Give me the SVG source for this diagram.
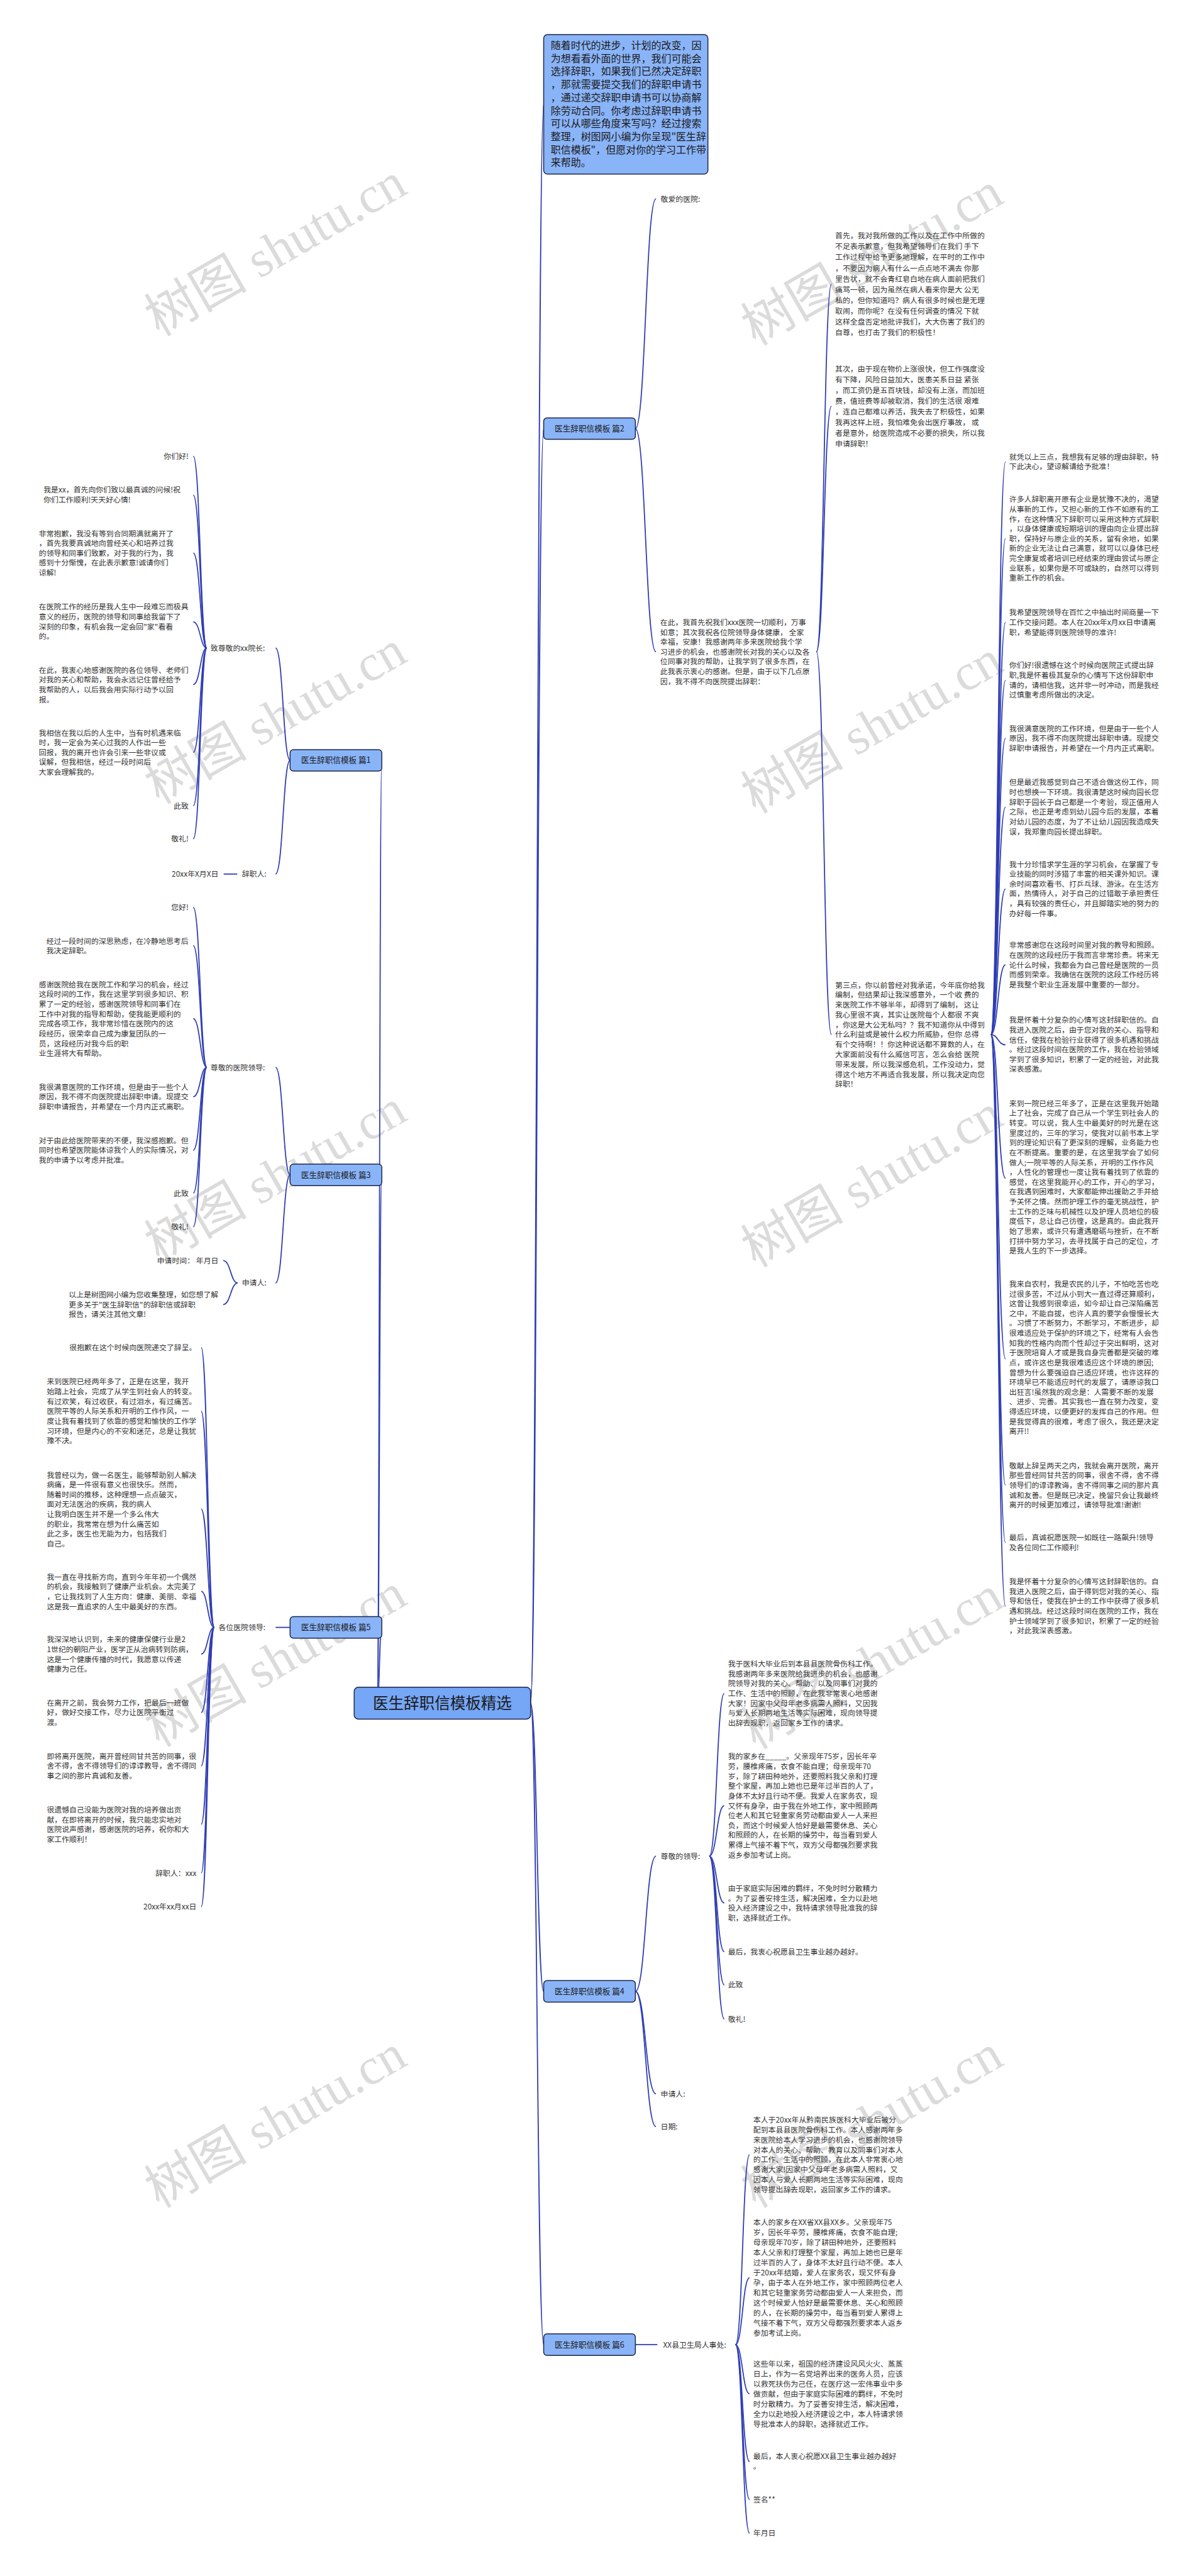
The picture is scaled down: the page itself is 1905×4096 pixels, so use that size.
<svg xmlns="http://www.w3.org/2000/svg" width="1905" height="4096" viewBox="0 0 1905 4096">
<style>
.t{font-family:"Noto Sans CJK SC","Liberation Sans",sans-serif;font-size:16px;fill:#333}
.tb{font-family:"Noto Sans CJK SC","Liberation Sans",sans-serif;font-size:17px;fill:#1a1a1a}
.ti{font-family:"Noto Sans CJK SC","Liberation Sans",sans-serif;font-size:21.5px;fill:#1a1a1a}
.tc{font-family:"Noto Sans CJK SC","Liberation Sans",sans-serif;font-size:33px;fill:#1a1a1a}
.box{fill:#8ab4f8;stroke:#1c2747;stroke-width:2}
.cbox{fill:#76a6f6;stroke:#1c2747;stroke-width:2}
.ln{fill:none;stroke:#2f3db4;stroke-width:2.4}
.wm{font-family:"Liberation Serif","Noto Sans CJK SC",serif;font-size:110px;fill:#cccccc;fill-opacity:0.7}
.r{text-anchor:end}
</style>
<rect width="1905" height="4096" fill="#fff"/>
<g transform="scale(0.744)">
<g id="watermarks">
<text class="wm" transform="translate(340,720) rotate(-30)">树图 shutu.cn</text>
<text class="wm" transform="translate(1615,740) rotate(-30)">树图 shutu.cn</text>
<text class="wm" transform="translate(340,1720) rotate(-30)">树图 shutu.cn</text>
<text class="wm" transform="translate(1615,1740) rotate(-30)">树图 shutu.cn</text>
<text class="wm" transform="translate(340,2700) rotate(-30)">树图 shutu.cn</text>
<text class="wm" transform="translate(1615,2710) rotate(-30)">树图 shutu.cn</text>
<text class="wm" transform="translate(340,3735) rotate(-30)">树图 shutu.cn</text>
<text class="wm" transform="translate(1615,3740) rotate(-30)">树图 shutu.cn</text>
<text class="wm" transform="translate(340,4720) rotate(-30)">树图 shutu.cn</text>
<text class="wm" transform="translate(1615,4720) rotate(-30)">树图 shutu.cn</text>
</g>
<g id="connectors">
<path class="ln" d="M1134,3640 C1148,3640 1148,222 1162,222"/>
<path class="ln" d="M1134,3640 C1148,3640 1148,916 1162,916"/>
<path class="ln" d="M1134,3640 C1148,3640 1148,4256 1162,4256"/>
<path class="ln" d="M1134,3640 C1148,3640 1148,5011 1162,5011"/>
<path class="ln" d="M806,3640 C811,3640 811,1625 816,1625"/>
<path class="ln" d="M806,3640 C811,3640 811,2511 816,2511"/>
<path class="ln" d="M806,3640 C811,3640 811,3478 816,3478"/>
<path class="ln" d="M1358,916 C1380,916 1380,425 1402,425"/>
<path class="ln" d="M1358,916 C1380,916 1380,1393 1402,1393"/>
<path class="ln" d="M1745,1393 C1761,1393 1761,607 1777,607"/>
<path class="ln" d="M1745,1393 C1761,1393 1761,868 1777,868"/>
<path class="ln" d="M1745,1393 C1761,1393 1761,2211 1777,2211"/>
<path class="ln" d="M2118,2211 C2133,2211 2133,987 2149,987"/>
<path class="ln" d="M2118,2211 C2133,2211 2133,1151 2149,1151"/>
<path class="ln" d="M2118,2211 C2133,2211 2133,1330 2149,1330"/>
<path class="ln" d="M2118,2211 C2133,2211 2133,1454 2149,1454"/>
<path class="ln" d="M2118,2211 C2133,2211 2133,1578 2149,1578"/>
<path class="ln" d="M2118,2211 C2133,2211 2133,1725 2149,1725"/>
<path class="ln" d="M2118,2211 C2133,2211 2133,1900 2149,1900"/>
<path class="ln" d="M2118,2211 C2133,2211 2133,2062 2149,2062"/>
<path class="ln" d="M2118,2211 C2133,2211 2133,2233 2149,2233"/>
<path class="ln" d="M2118,2211 C2133,2211 2133,2518 2149,2518"/>
<path class="ln" d="M2118,2211 C2133,2211 2133,2904 2149,2904"/>
<path class="ln" d="M2118,2211 C2133,2211 2133,3174 2149,3174"/>
<path class="ln" d="M2118,2211 C2133,2211 2133,3297 2149,3297"/>
<path class="ln" d="M2118,2211 C2133,2211 2133,3433 2149,3433"/>
<path class="ln" d="M620,1625 C605,1625 605,1385 589,1385"/>
<path class="ln" d="M620,1625 C605,1625 605,1868 589,1868"/>
<path class="ln" d="M442,1385 C428,1385 428,975 413,975"/>
<path class="ln" d="M442,1385 C428,1385 428,1058 413,1058"/>
<path class="ln" d="M442,1385 C428,1385 428,1182 413,1182"/>
<path class="ln" d="M442,1385 C428,1385 428,1329 413,1329"/>
<path class="ln" d="M442,1385 C428,1385 428,1463 413,1463"/>
<path class="ln" d="M442,1385 C428,1385 428,1608 413,1608"/>
<path class="ln" d="M442,1385 C428,1385 428,1722 413,1722"/>
<path class="ln" d="M442,1385 C428,1385 428,1793 413,1793"/>
<path class="ln" d="M507,1868 L478,1868"/>
<path class="ln" d="M620,2511 C605,2511 605,2281 589,2281"/>
<path class="ln" d="M620,2511 C605,2511 605,2742 589,2742"/>
<path class="ln" d="M442,2281 C428,2281 428,1939 413,1939"/>
<path class="ln" d="M442,2281 C428,2281 428,2021 413,2021"/>
<path class="ln" d="M442,2281 C428,2281 428,2177 413,2177"/>
<path class="ln" d="M442,2281 C428,2281 428,2344 413,2344"/>
<path class="ln" d="M442,2281 C428,2281 428,2458 413,2458"/>
<path class="ln" d="M442,2281 C428,2281 428,2550 413,2550"/>
<path class="ln" d="M442,2281 C428,2281 428,2622 413,2622"/>
<path class="ln" d="M508,2742 C493,2742 493,2694 477,2694"/>
<path class="ln" d="M508,2742 C493,2742 493,2788 477,2788"/>
<path class="ln" d="M620,3478 L589,3478"/>
<path class="ln" d="M458,3478 C444,3478 444,2880 430,2880"/>
<path class="ln" d="M458,3478 C444,3478 444,3016 430,3016"/>
<path class="ln" d="M458,3478 C444,3478 444,3225 430,3225"/>
<path class="ln" d="M458,3478 C444,3478 444,3401 430,3401"/>
<path class="ln" d="M458,3478 C444,3478 444,3535 430,3535"/>
<path class="ln" d="M458,3478 C444,3478 444,3660 430,3660"/>
<path class="ln" d="M458,3478 C444,3478 444,3774 430,3774"/>
<path class="ln" d="M458,3478 C444,3478 444,3899 430,3899"/>
<path class="ln" d="M458,3478 C444,3478 444,4003 430,4003"/>
<path class="ln" d="M458,3478 C444,3478 444,4075 430,4075"/>
<path class="ln" d="M1358,4256 C1380,4256 1380,3967 1402,3967"/>
<path class="ln" d="M1358,4256 C1380,4256 1380,4475 1402,4475"/>
<path class="ln" d="M1358,4256 C1380,4256 1380,4545 1402,4545"/>
<path class="ln" d="M1516,3967 C1532,3967 1532,3619 1548,3619"/>
<path class="ln" d="M1516,3967 C1532,3967 1532,3859 1548,3859"/>
<path class="ln" d="M1516,3967 C1532,3967 1532,4067 1548,4067"/>
<path class="ln" d="M1516,3967 C1532,3967 1532,4171 1548,4171"/>
<path class="ln" d="M1516,3967 C1532,3967 1532,4242 1548,4242"/>
<path class="ln" d="M1516,3967 C1532,3967 1532,4315 1548,4315"/>
<path class="ln" d="M1358,5011 L1405,5011"/>
<path class="ln" d="M1572,5011 C1587,5011 1587,4605 1602,4605"/>
<path class="ln" d="M1572,5011 C1587,5011 1587,4868 1602,4868"/>
<path class="ln" d="M1572,5011 C1587,5011 1587,5116 1602,5116"/>
<path class="ln" d="M1572,5011 C1587,5011 1587,5261 1602,5261"/>
<path class="ln" d="M1572,5011 C1587,5011 1587,5342 1602,5342"/>
<path class="ln" d="M1572,5011 C1587,5011 1587,5414 1602,5414"/>
</g>
<g id="center"><rect class="cbox" x="757" y="3606" width="377" height="68" rx="9"/><text class="tc" x="945.5" y="3652" text-anchor="middle">医生辞职信模板精选</text></g>
<g id="intro"><rect class="box" x="1162" y="74" width="351" height="298" rx="8"/>
<text class="ti" x="1177" y="105"><tspan x="1177" dy="0">随着时代的进步，计划的改变，因</tspan><tspan x="1177" dy="27.8">为想看看外面的世界，我们可能会</tspan><tspan x="1177" dy="27.8">选择辞职，如果我们已然决定辞职</tspan><tspan x="1177" dy="27.8">，那就需要提交我们的辞职申请书</tspan><tspan x="1177" dy="27.8">，通过递交辞职申请书可以协商解</tspan><tspan x="1177" dy="27.8">除劳动合同。你考虑过辞职申请书</tspan><tspan x="1177" dy="27.8">可以从哪些角度来写吗？经过搜索</tspan><tspan x="1177" dy="27.8">整理，树图网小编为你呈现"医生辞</tspan><tspan x="1177" dy="27.8">职信模板"，但愿对你的学习工作带</tspan><tspan x="1177" dy="27.8">来帮助。</tspan></text></g>
<g id="b2"><rect class="box" x="1162" y="893" width="196" height="46" rx="7"/><text class="tb" x="1260" y="922" text-anchor="middle">医生辞职信模板 篇2</text></g>
<g id="b1"><rect class="box" x="620" y="1602" width="196" height="46" rx="7"/><text class="tb" x="718" y="1631" text-anchor="middle">医生辞职信模板 篇1</text></g>
<g id="b3"><rect class="box" x="620" y="2488" width="196" height="46" rx="7"/><text class="tb" x="718" y="2517" text-anchor="middle">医生辞职信模板 篇3</text></g>
<g id="b5"><rect class="box" x="620" y="3455" width="196" height="46" rx="7"/><text class="tb" x="718" y="3484" text-anchor="middle">医生辞职信模板 篇5</text></g>
<g id="b4"><rect class="box" x="1162" y="4233" width="196" height="46" rx="7"/><text class="tb" x="1260" y="4262" text-anchor="middle">医生辞职信模板 篇4</text></g>
<g id="b6"><rect class="box" x="1162" y="4988" width="196" height="46" rx="7"/><text class="tb" x="1260" y="5017" text-anchor="middle">医生辞职信模板 篇6</text></g>
<g id="p2">
<text class="t" x="1412" y="431">敬爱的医院:</text>
<text class="t" x="1411" y="1336"><tspan x="1411" dy="0">在此，我首先祝我们xxx医院一切顺利，万事</tspan><tspan x="1411" dy="21">如意；其次我祝各位院领导身体健康， 全家</tspan><tspan x="1411" dy="21">幸福，安康！我感谢两年多来医院给我个学</tspan><tspan x="1411" dy="21">习进步的机会，也感谢院长对我的关心以及各</tspan><tspan x="1411" dy="21">位同事对我的帮助，让我学到了很多东西，在</tspan><tspan x="1411" dy="21">此我表示衷心的感谢。但是，由于以下几点原</tspan><tspan x="1411" dy="21">因，我不得不向医院提出辞职：</tspan></text>
<text class="t" x="1785" y="510"><tspan x="1785" dy="0">首先，我对我所做的工作以及在工作中所做的</tspan><tspan x="1785" dy="22.9">不足表示歉意，但我希望领导们在我们 手下</tspan><tspan x="1785" dy="22.9">工作过程中给予更多地理解，在平时的工作中</tspan><tspan x="1785" dy="22.9">，不要因为病人有什么一点点地不满去 你那</tspan><tspan x="1785" dy="22.9">里告状，就不会青红皂白地在病人面前把我们</tspan><tspan x="1785" dy="22.9">痛骂一顿，因为虽然在病人看来你是大 公无</tspan><tspan x="1785" dy="22.9">私的，但你知道吗？病人有很多时候也是无理</tspan><tspan x="1785" dy="22.9">取闹，而你呢？在没有任何调查的情况 下就</tspan><tspan x="1785" dy="22.9">这样全盘否定地批评我们，大大伤害了我们的</tspan><tspan x="1785" dy="22.9">自尊，也打击了我们的积极性！</tspan></text>
<text class="t" x="1785" y="794"><tspan x="1785" dy="0">其次，由于现在物价上涨很快，但工作强度没</tspan><tspan x="1785" dy="22.9">有下降，风险日益加大，医患关系日益 紧张</tspan><tspan x="1785" dy="22.9">，而工资仍是五百块钱，却没有上涨，而加班</tspan><tspan x="1785" dy="22.9">费，值班费等却被取消，我们的生活很 艰难</tspan><tspan x="1785" dy="22.9">，连自己都难以养活，我失去了积极性，如果</tspan><tspan x="1785" dy="22.9">我再这样上班，我怕难免会出医疗事故， 或</tspan><tspan x="1785" dy="22.9">者是意外，给医院造成不必要的损失，所以我</tspan><tspan x="1785" dy="22.9">申请辞职！</tspan></text>
<text class="t" x="1785" y="2111"><tspan x="1785" dy="0">第三点，你以前曾经对我承诺，今年底你给我</tspan><tspan x="1785" dy="21.2">编制，但结果却让我深感意外，一个收 费的</tspan><tspan x="1785" dy="21.2">来医院工作不够半年，却得到了编制， 这让</tspan><tspan x="1785" dy="21.2">我心里很不爽，其实让医院每个人都很 不爽</tspan><tspan x="1785" dy="21.2">，你这是大公无私吗？？我不知道你从中得到</tspan><tspan x="1785" dy="21.2">什么利益或是被什么权力所威胁，但你 总得</tspan><tspan x="1785" dy="21.2">有个交待啊！！你这种说话都不算数的人，在</tspan><tspan x="1785" dy="21.2">大家面前没有什么威信可言，怎么会给 医院</tspan><tspan x="1785" dy="21.2">带来发展，所以我深感危机，工作没动力，觉</tspan><tspan x="1785" dy="21.2">得这个地方不再适合我发展，所以我决定向您</tspan><tspan x="1785" dy="21.2">辞职！</tspan></text>
</g>
<g id="rightcol">
<text class="t" x="2157" y="982"><tspan x="2157" dy="0">就凭以上三点，我想我有足够的理由辞职，特</tspan><tspan x="2157" dy="21">下此决心，望谅解请给予批准！</tspan></text>
<text class="t" x="2157" y="1073"><tspan x="2157" dy="0">许多人辞职离开原有企业是犹豫不决的，渴望</tspan><tspan x="2157" dy="21">从事新的工作，又担心新的工作不如原有的工</tspan><tspan x="2157" dy="21">作，在这种情况下辞职可以采用这种方式辞职</tspan><tspan x="2157" dy="21">，以身体健康或短期培训的理由向企业提出辞</tspan><tspan x="2157" dy="21">职，保持好与原企业的关系，留有余地，如果</tspan><tspan x="2157" dy="21">新的企业无法让自己满意，就可以以身体已经</tspan><tspan x="2157" dy="21">完全康复或者培训已经结束的理由尝试与原企</tspan><tspan x="2157" dy="21">业联系，如果你是不可或缺的，自然可以得到</tspan><tspan x="2157" dy="21">重新工作的机会。</tspan></text>
<text class="t" x="2157" y="1315"><tspan x="2157" dy="0">我希望医院领导在百忙之中抽出时间商量一下</tspan><tspan x="2157" dy="21">工作交接问题。本人在20xx年x月xx日申请离</tspan><tspan x="2157" dy="21">职，希望能得到医院领导的准许!</tspan></text>
<text class="t" x="2157" y="1428"><tspan x="2157" dy="0">你们好!很遗憾在这个时候向医院正式提出辞</tspan><tspan x="2157" dy="21">职,我是怀着极其复杂的心情写下这份辞职申</tspan><tspan x="2157" dy="21">请的，请相信我，这并非一时冲动，而是我经</tspan><tspan x="2157" dy="21">过慎重考虑所做出的决定。</tspan></text>
<text class="t" x="2157" y="1563"><tspan x="2157" dy="0">我很满意医院的工作环境，但是由于一些个人</tspan><tspan x="2157" dy="21">原因，我不得不向医院提出辞职申请。现提交</tspan><tspan x="2157" dy="21">辞职申请报告，并希望在一个月内正式离职。</tspan></text>
<text class="t" x="2157" y="1678"><tspan x="2157" dy="0">但是最近我感觉到自己不适合做这份工作，同</tspan><tspan x="2157" dy="21">时也想换一下环境。我很清楚这时候向园长您</tspan><tspan x="2157" dy="21">辞职于园长于自己都是一个考验，现正值用人</tspan><tspan x="2157" dy="21">之际，也正是考虑到幼儿园今后的发展，本着</tspan><tspan x="2157" dy="21">对幼儿园的态度，为了不让幼儿园因我造成失</tspan><tspan x="2157" dy="21">误，我郑重向园长提出辞职。</tspan></text>
<text class="t" x="2157" y="1853"><tspan x="2157" dy="0">我十分珍惜求学生涯的学习机会，在掌握了专</tspan><tspan x="2157" dy="21">业技能的同时涉猎了丰富的相关课外知识。课</tspan><tspan x="2157" dy="21">余时间喜欢看书、打乒乓球、游泳。在生活方</tspan><tspan x="2157" dy="21">面，热情待人，对于自己的过错敢于承担责任</tspan><tspan x="2157" dy="21">，具有较强的责任心，并且脚踏实地的努力的</tspan><tspan x="2157" dy="21">办好每一件事。</tspan></text>
<text class="t" x="2157" y="2026"><tspan x="2157" dy="0">非常感谢您在这段时间里对我的教导和照顾。</tspan><tspan x="2157" dy="21">在医院的这段经历于我而言非常珍贵。将来无</tspan><tspan x="2157" dy="21">论什么时候，我都会为自己曾经是医院的一员</tspan><tspan x="2157" dy="21">而感到荣幸。我确信在医院的这段工作经历将</tspan><tspan x="2157" dy="21">是我整个职业生涯发展中重要的一部分。</tspan></text>
<text class="t" x="2157" y="2186"><tspan x="2157" dy="0">我是怀着十分复杂的心情写这封辞职信的。自</tspan><tspan x="2157" dy="21">我进入医院之后，由于您对我的关心、指导和</tspan><tspan x="2157" dy="21">信任，使我在检验行业获得了很多机遇和挑战</tspan><tspan x="2157" dy="21">。经过这段时间在医院的工作，我在检验领域</tspan><tspan x="2157" dy="21">学到了很多知识，积累了一定的经验，对此我</tspan><tspan x="2157" dy="21">深表感激。</tspan></text>
<text class="t" x="2157" y="2364"><tspan x="2157" dy="0">来到一院已经三年多了，正是在这里我开始踏</tspan><tspan x="2157" dy="21">上了社会，完成了自己从一个学生到社会人的</tspan><tspan x="2157" dy="21">转变。可以说，我人生中最美好的时光是在这</tspan><tspan x="2157" dy="21">里度过的，三年的学习，使我对以前书本上学</tspan><tspan x="2157" dy="21">到的理论知识有了更深刻的理解，业务能力也</tspan><tspan x="2157" dy="21">在不断提高。重要的是，在这里我学会了如何</tspan><tspan x="2157" dy="21">做人;一院平等的人际关系，开明的工作作风</tspan><tspan x="2157" dy="21">，人性化的管理也一度让我有着找到了依靠的</tspan><tspan x="2157" dy="21">感觉，在这里我能开心的工作，开心的学习，</tspan><tspan x="2157" dy="21">在我遇到困难时，大家都能伸出援助之手并给</tspan><tspan x="2157" dy="21">予关怀之情。然而护理工作的毫无挑战性，护</tspan><tspan x="2157" dy="21">士工作的乏味与机械性以及护理人员地位的极</tspan><tspan x="2157" dy="21">度低下，总让自己彷徨，这是真的。由此我开</tspan><tspan x="2157" dy="21">始了思索，或许只有遭遇磨砺与挫折，在不断</tspan><tspan x="2157" dy="21">打拼中努力学习，去寻找属于自己的定位，才</tspan><tspan x="2157" dy="21">是我人生的下一步选择。</tspan></text>
<text class="t" x="2157" y="2750"><tspan x="2157" dy="0">我来自农村，我是农民的儿子，不怕吃苦也吃</tspan><tspan x="2157" dy="21">过很多苦，不过从小到大一直过得还算顺利，</tspan><tspan x="2157" dy="21">这曾让我感到很幸运，如今却让自己深陷痛苦</tspan><tspan x="2157" dy="21">之中，不能自拔，也许人真的要学会慢慢长大</tspan><tspan x="2157" dy="21">。习惯了不断努力，不断学习，不断进步，却</tspan><tspan x="2157" dy="21">很难适应处于保护的环境之下，经常有人会告</tspan><tspan x="2157" dy="21">知我的性格内向而个性却过于突出鲜明，这对</tspan><tspan x="2157" dy="21">于医院培育人才或是我自身完善都是突破的难</tspan><tspan x="2157" dy="21">点，或许这也是我很难适应这个环境的原因;</tspan><tspan x="2157" dy="21">曾想为什么要强迫自己适应环境，也许这样的</tspan><tspan x="2157" dy="21">环境早已不能适应时代的发展了，请原谅我口</tspan><tspan x="2157" dy="21">出狂言!虽然我的观念是：人需要不断的发展</tspan><tspan x="2157" dy="21">、进步、完善。其实我也一直在努力改变，变</tspan><tspan x="2157" dy="21">得适应环境，以便更好的发挥自己的作用。但</tspan><tspan x="2157" dy="21">是我觉得真的很难，考虑了很久，我还是决定</tspan><tspan x="2157" dy="21">离开!!</tspan></text>
<text class="t" x="2157" y="3138"><tspan x="2157" dy="0">敬献上辞呈两天之内，我就会离开医院，离开</tspan><tspan x="2157" dy="21">那些曾经同甘共苦的同事，很舍不得，舍不得</tspan><tspan x="2157" dy="21">领导们的谆谆教诲，舍不得同事之间的那片真</tspan><tspan x="2157" dy="21">诚和友善。但是既已决定，挽留只会让我最终</tspan><tspan x="2157" dy="21">离开的时候更加难过，请领导批准!谢谢!</tspan></text>
<text class="t" x="2157" y="3292"><tspan x="2157" dy="0">最后，真诚祝愿医院一如既往一路飙升!领导</tspan><tspan x="2157" dy="21">及各位同仁工作顺利!</tspan></text>
<text class="t" x="2157" y="3386"><tspan x="2157" dy="0">我是怀着十分复杂的心情写这封辞职信的。自</tspan><tspan x="2157" dy="21">我进入医院之后，由于得到您对我的关心、指</tspan><tspan x="2157" dy="21">导和信任，使我在护士的工作中获得了很多机</tspan><tspan x="2157" dy="21">遇和挑战。经过这段时间在医院的工作，我在</tspan><tspan x="2157" dy="21">护士领域学到了很多知识，积累了一定的经验</tspan><tspan x="2157" dy="21">，对此我深表感激。</tspan></text>
</g>
<g id="p1">
<text class="t" x="450" y="1391">致尊敬的xx院长:</text>
<text class="t r" x="403" y="981">你们好!</text>
<text class="t" x="93" y="1053"><tspan x="93" dy="0">我是xx，首先向你们致以最真诚的问候!祝</tspan><tspan x="93" dy="21">你们工作顺利!天天好心情!</tspan></text>
<text class="t" x="83" y="1146"><tspan x="83" dy="0">非常抱歉，我没有等到合同期满就离开了</tspan><tspan x="83" dy="21">，首先我要真诚地向曾经关心和培养过我</tspan><tspan x="83" dy="21">的领导和同事们致歉，对于我的行为，我</tspan><tspan x="83" dy="21">感到十分惭愧，在此表示歉意!诚请你们</tspan><tspan x="83" dy="21">谅解!</tspan></text>
<text class="t" x="83" y="1303"><tspan x="83" dy="0">在医院工作的经历是我人生中一段难忘而极具</tspan><tspan x="83" dy="21">意义的经历，医院的领导和同事给我留下了</tspan><tspan x="83" dy="21">深刻的印象，有机会我一定会回"家"看看</tspan><tspan x="83" dy="21">的。</tspan></text>
<text class="t" x="83" y="1438"><tspan x="83" dy="0">在此，我衷心地感谢医院的各位领导、老师们</tspan><tspan x="83" dy="21">对我的关心和帮助，我会永远记住曾经给予</tspan><tspan x="83" dy="21">我帮助的人，以后我会用实际行动予以回</tspan><tspan x="83" dy="21">报。</tspan></text>
<text class="t" x="83" y="1572"><tspan x="83" dy="0">我相信在我以后的人生中，当有时机遇来临</tspan><tspan x="83" dy="21">时，我一定会为关心过我的人作出一些</tspan><tspan x="83" dy="21">回报，我的离开也许会引来一些非议或</tspan><tspan x="83" dy="21">误解，但我相信，经过一段时间后</tspan><tspan x="83" dy="21">大家会理解我的。</tspan></text>
<text class="t r" x="403" y="1728">此致</text>
<text class="t r" x="403" y="1799">敬礼!</text>
<text class="t" x="517" y="1874">辞职人:</text>
<text class="t r" x="467" y="1874">20xx年X月X日</text>
</g>
<g id="p3">
<text class="t" x="450" y="2287">尊敬的医院领导:</text>
<text class="t r" x="403" y="1945">您好!</text>
<text class="t" x="99" y="2017"><tspan x="99" dy="0">经过一段时间的深思熟虑，在冷静地思考后</tspan><tspan x="99" dy="21">我决定辞职。</tspan></text>
<text class="t" x="83" y="2110"><tspan x="83" dy="0">感谢医院给我在医院工作和学习的机会，经过</tspan><tspan x="83" dy="21">这段时间的工作，我在这里学到很多知识、积</tspan><tspan x="83" dy="21">累了一定的经验，感谢医院领导和同事们在</tspan><tspan x="83" dy="21">工作中对我的指导和帮助，使我能更顺利的</tspan><tspan x="83" dy="21">完成各项工作，我非常珍惜在医院内的这</tspan><tspan x="83" dy="21">段经历，很荣幸自己成为康复团队的一</tspan><tspan x="83" dy="21">员，这段经历对我今后的职</tspan><tspan x="83" dy="21">业生涯将大有帮助。</tspan></text>
<text class="t" x="83" y="2329"><tspan x="83" dy="0">我很满意医院的工作环境，但是由于一些个人</tspan><tspan x="83" dy="21">原因，我不得不向医院提出辞职申请。现提交</tspan><tspan x="83" dy="21">辞职申请报告，并希望在一个月内正式离职。</tspan></text>
<text class="t" x="83" y="2443"><tspan x="83" dy="0">对于由此给医院带来的不便，我深感抱歉。但</tspan><tspan x="83" dy="21">同时也希望医院能体谅我个人的实际情况，对</tspan><tspan x="83" dy="21">我的申请予以考虑并批准。</tspan></text>
<text class="t r" x="403" y="2556">此致</text>
<text class="t r" x="403" y="2628">敬礼!</text>
<text class="t" x="517" y="2748">申请人:</text>
<text class="t r" x="467" y="2700">申请时间： 年月日</text>
<text class="t" x="147" y="2773"><tspan x="147" dy="0">以上是树图网小编为您收集整理，如您想了解</tspan><tspan x="147" dy="21">更多关于"医生辞职信"的辞职信或辞职</tspan><tspan x="147" dy="21">报告，请关注其他文章!</tspan></text>
</g>
<g id="p5">
<text class="t" x="467" y="3484">各位医院领导:</text>
<text class="t r" x="420" y="2886">很抱歉在这个时候向医院递交了辞呈。</text>
<text class="t" x="100" y="2959"><tspan x="100" dy="0">来到医院已经两年多了，正是在这里，我开</tspan><tspan x="100" dy="21">始踏上社会，完成了从学生到社会人的转变。</tspan><tspan x="100" dy="21">有过欢笑，有过收获，有过泪水，有过痛苦。</tspan><tspan x="100" dy="21">医院平等的人际关系和开明的工作作风，一</tspan><tspan x="100" dy="21">度让我有着找到了依靠的感觉和愉快的工作学</tspan><tspan x="100" dy="21">习环境，但是内心的不安和迷茫，总是让我犹</tspan><tspan x="100" dy="21">豫不决。</tspan></text>
<text class="t" x="100" y="3158"><tspan x="100" dy="0">我曾经以为，做一名医生，能够帮助别人解决</tspan><tspan x="100" dy="21">病痛，是一件很有意义也很快乐。然而，</tspan><tspan x="100" dy="21">随着时间的推移，这种理想一点点破灭，</tspan><tspan x="100" dy="21">面对无法医治的疾病，我的病人</tspan><tspan x="100" dy="21">让我明白医生并不是一个多么伟大</tspan><tspan x="100" dy="21">的职业，我常常在想为什么痛苦如</tspan><tspan x="100" dy="21">此之多，医生也无能为力，包括我们</tspan><tspan x="100" dy="21">自己。</tspan></text>
<text class="t" x="100" y="3376"><tspan x="100" dy="0">我一直在寻找新方向，直到今年年初一个偶然</tspan><tspan x="100" dy="21">的机会，我接触到了健康产业机会。太完美了</tspan><tspan x="100" dy="21">，它让我找到了人生方向：健康、美丽、幸福</tspan><tspan x="100" dy="21">这是我一直追求的人生中最美好的东西。</tspan></text>
<text class="t" x="100" y="3510"><tspan x="100" dy="0">我深深地认识到，未来的健康保健行业是2</tspan><tspan x="100" dy="21">1世纪的朝阳产业，医学正从治病转到防病，</tspan><tspan x="100" dy="21">这是一个健康传播的时代，我愿意以传递</tspan><tspan x="100" dy="21">健康为己任。</tspan></text>
<text class="t" x="100" y="3645"><tspan x="100" dy="0">在离开之前，我会努力工作，把最后一班做</tspan><tspan x="100" dy="21">好，做好交接工作，尽力让医院平衡过</tspan><tspan x="100" dy="21">渡。</tspan></text>
<text class="t" x="100" y="3759"><tspan x="100" dy="0">即将离开医院，离开曾经同甘共苦的同事，很</tspan><tspan x="100" dy="21">舍不得，舍不得领导们的谆谆教导，舍不得同</tspan><tspan x="100" dy="21">事之间的那片真诚和友善。</tspan></text>
<text class="t" x="100" y="3874"><tspan x="100" dy="0">很遗憾自己没能为医院对我的培养做出贡</tspan><tspan x="100" dy="21">献，在即将离开的时候，我只能忠实地对</tspan><tspan x="100" dy="21">医院说声感谢，感谢医院的培养，祝你和大</tspan><tspan x="100" dy="21">家工作顺利！</tspan></text>
<text class="t r" x="420" y="4009">辞职人：xxx</text>
<text class="t r" x="420" y="4081">20xx年xx月xx日</text>
</g>
<g id="p4">
<text class="t" x="1412" y="3973">尊敬的领导:</text>
<text class="t" x="1412" y="4481">申请人:</text>
<text class="t" x="1412" y="4551">日期:</text>
<text class="t" x="1556" y="3562"><tspan x="1556" dy="0">我于医科大毕业后到本县县医院骨伤科工作。</tspan><tspan x="1556" dy="21">我感谢两年多来医院给我进步的机会，也感谢</tspan><tspan x="1556" dy="21">院领导对我的关心、帮助、以及同事们对我的</tspan><tspan x="1556" dy="21">工作、生活中的照顾，在此我非常衷心地感谢</tspan><tspan x="1556" dy="21">大家！因家中父母年老多病需人照料，又因我</tspan><tspan x="1556" dy="21">与爱人长期两地生活等实际困难，现向领导提</tspan><tspan x="1556" dy="21">出辞去现职，返回家乡工作的请求。</tspan></text>
<text class="t" x="1556" y="3760"><tspan x="1556" dy="0">我的家乡在_____。父亲现年75岁，因长年辛</tspan><tspan x="1556" dy="21">劳，腰椎疼痛，衣食不能自理；母亲现年70</tspan><tspan x="1556" dy="21">岁，除了耕田种地外，还要照料我父亲和打理</tspan><tspan x="1556" dy="21">整个家屋，再加上她也已是年过半百的人了，</tspan><tspan x="1556" dy="21">身体不太好且行动不便。我爱人在家务农，现</tspan><tspan x="1556" dy="21">又怀有身孕，由于我在外地工作，家中照顾两</tspan><tspan x="1556" dy="21">位老人和其它轻重家务劳动都由爱人一人来担</tspan><tspan x="1556" dy="21">负，而这个时候爱人恰好是最需要休息、关心</tspan><tspan x="1556" dy="21">和照顾的人，在长期的操劳中，每当看到爱人</tspan><tspan x="1556" dy="21">累得上气接不着下气，双方父母都强烈要求我</tspan><tspan x="1556" dy="21">返乡参加考试上岗。</tspan></text>
<text class="t" x="1556" y="4042"><tspan x="1556" dy="0">由于家庭实际困难的羁绊，不免时时分散精力</tspan><tspan x="1556" dy="21">。为了妥善安排生活，解决困难，全力以赴地</tspan><tspan x="1556" dy="21">投入经济建设之中，我特请求领导批准我的辞</tspan><tspan x="1556" dy="21">职，选择就近工作。</tspan></text>
<text class="t" x="1556" y="4177">最后，我衷心祝愿县卫生事业越办越好。</text>
<text class="t" x="1556" y="4248">此致</text>
<text class="t" x="1556" y="4321">敬礼!</text>
</g>
<g id="p6">
<text class="t r" x="1552" y="5017">XX县卫生局人事处:</text>
<text class="t" x="1610" y="4536"><tspan x="1610" dy="0">本人于20xx年从黔南民族医科大毕业后被分</tspan><tspan x="1610" dy="21.4">配到本县县医院骨伤科工作。本人感谢两年多</tspan><tspan x="1610" dy="21.4">来医院给本人学习进步的机会，也感谢院领导</tspan><tspan x="1610" dy="21.4">对本人的关心、帮助、教育以及同事们对本人</tspan><tspan x="1610" dy="21.4">的工作、生活中的照顾，在此本人非常衷心地</tspan><tspan x="1610" dy="21.4">感谢大家!因家中父母年老多病需人照料，又</tspan><tspan x="1610" dy="21.4">因本人与爱人长期两地生活等实际困难，现向</tspan><tspan x="1610" dy="21.4">领导提出辞去现职，返回家乡工作的请求。</tspan></text>
<text class="t" x="1610" y="4756"><tspan x="1610" dy="0">本人的家乡在XX省XX县XX乡。父亲现年75</tspan><tspan x="1610" dy="21.4">岁，因长年辛劳，腰椎疼痛，衣食不能自理;</tspan><tspan x="1610" dy="21.4">母亲现年70岁，除了耕田种地外，还要照料</tspan><tspan x="1610" dy="21.4">本人父亲和打理整个家屋，再加上她也已是年</tspan><tspan x="1610" dy="21.4">过半百的人了，身体不太好且行动不便。本人</tspan><tspan x="1610" dy="21.4">于20xx年结婚，爱人在家务农，现又怀有身</tspan><tspan x="1610" dy="21.4">孕，由于本人在外地工作，家中照顾两位老人</tspan><tspan x="1610" dy="21.4">和其它轻重家务劳动都由爱人一人来担负，而</tspan><tspan x="1610" dy="21.4">这个时候爱人恰好是最需要休息、关心和照顾</tspan><tspan x="1610" dy="21.4">的人，在长期的操劳中，每当看到爱人累得上</tspan><tspan x="1610" dy="21.4">气接不着下气，双方父母都强烈要求本人返乡</tspan><tspan x="1610" dy="21.4">参加考试上岗。</tspan></text>
<text class="t" x="1610" y="5058"><tspan x="1610" dy="0">这些年以来，祖国的经济建设风风火火、蒸蒸</tspan><tspan x="1610" dy="21.4">日上，作为一名党培养出来的医务人员，应该</tspan><tspan x="1610" dy="21.4">以救死扶伤为己任，在医疗这一宏伟事业中多</tspan><tspan x="1610" dy="21.4">做贡献，但由于家庭实际困难的羁绊，不免时</tspan><tspan x="1610" dy="21.4">时分散精力。为了妥善安排生活，解决困难，</tspan><tspan x="1610" dy="21.4">全力以赴地投入经济建设之中，本人特请求领</tspan><tspan x="1610" dy="21.4">导批准本人的辞职，选择就近工作。</tspan></text>
<text class="t" x="1610" y="5256"><tspan x="1610" dy="0">最后，本人衷心祝愿XX县卫生事业越办越好</tspan><tspan x="1610" dy="21.4">。</tspan></text>
<text class="t" x="1610" y="5348">签名**</text>
<text class="t" x="1610" y="5420">年月日</text>
</g>
</g>
</svg>
